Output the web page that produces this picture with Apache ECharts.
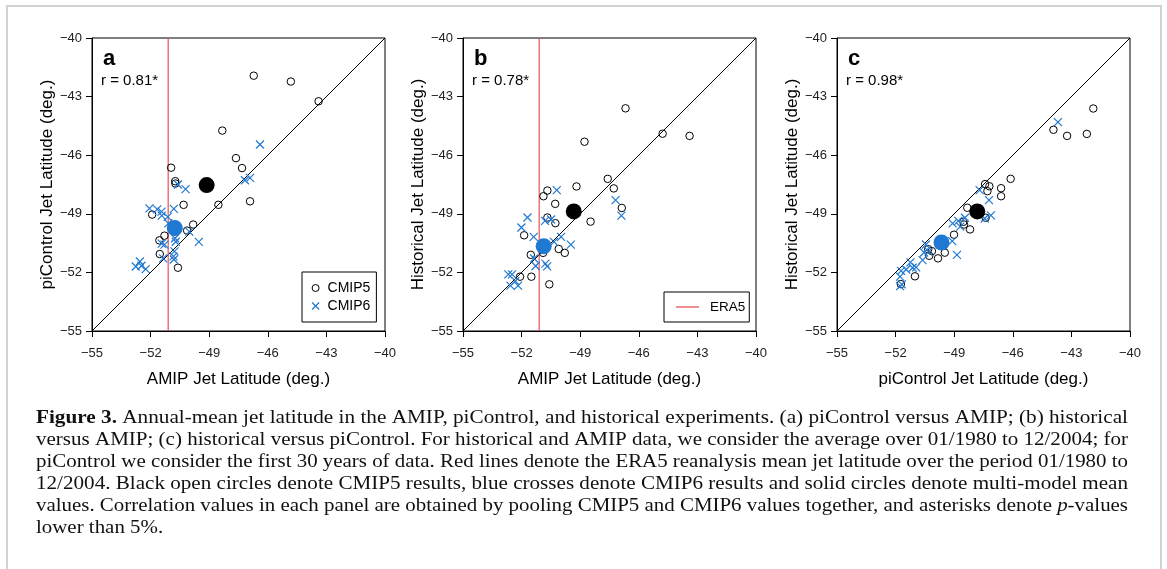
<!DOCTYPE html>
<html>
<head>
<meta charset="utf-8">
<script src="https://cdn.jsdelivr.net/npm/echarts@6/dist/echarts.min.js"></script>
<style>
html,body{margin:0;padding:0;background:#fff;}
#chart{width:1167px;height:569px;}
</style>
</head>
<body>
<div id="chart"></div>
<script>
// ---- data ----
const tickValues = [-55, -52, -49, -46, -43, -40];
const era5Lat = -51.1;
const panelLetters = ['a', 'b', 'c'];
const rValues = ['0.81*', '0.78*', '0.98*'];
const xTitles = ['AMIP Jet Latitude (deg.)', 'AMIP Jet Latitude (deg.)', 'piControl Jet Latitude (deg.)'];
const yTitles = ['piControl Jet Latitude (deg.)', 'Historical Jet Latitude (deg.)', 'Historical Jet Latitude (deg.)'];
const diagonal = [[-55, -55], [-40, -40]];

// panel a: piControl vs AMIP
const aCmip5 = [[-46.72,-41.93],[-44.82,-42.23],[-43.40,-43.24],[-48.33,-44.74],[-47.63,-46.15],[-47.32,-46.66],[-50.95,-46.64],[-50.74,-47.33],[-50.73,-47.45],[-46.91,-48.36],[-48.53,-48.54],[-50.31,-48.54],[-51.92,-49.04],[-49.82,-49.55],[-50.13,-49.86],[-51.29,-50.12],[-51.55,-50.36],[-51.53,-51.06],[-50.60,-51.76]];
const aCmip6 = [[-46.40,-45.45],[-46.91,-47.16],[-47.17,-47.28],[-50.60,-47.50],[-50.21,-47.74],[-50.81,-48.75],[-52.06,-48.72],[-51.66,-48.77],[-51.44,-48.89],[-51.43,-49.09],[-51.12,-49.16],[-50.02,-49.91],[-49.53,-50.44],[-50.71,-50.43],[-51.43,-50.53],[-51.29,-50.58],[-50.78,-50.92],[-50.83,-51.18],[-51.36,-51.28],[-50.81,-51.34],[-52.55,-51.44],[-52.76,-51.70],[-52.47,-51.66],[-52.25,-51.83],[-51.09,-49.49],[-50.75,-50.25]];
const aMean5 = [-49.13, -47.53];
const aMean6 = [-50.76, -49.73];

// panel b: historical vs AMIP
const bCmip5 = [[-46.68,-43.60],[-44.78,-44.90],[-43.40,-45.01],[-48.78,-45.31],[-47.59,-47.21],[-47.28,-47.70],[-46.87,-48.70],[-49.19,-47.60],[-50.68,-47.81],[-50.88,-48.10],[-50.28,-48.49],[-48.47,-49.40],[-50.68,-49.19],[-50.27,-49.48],[-51.87,-50.10],[-50.10,-50.80],[-49.79,-51.00],[-51.53,-51.10],[-50.90,-51.00],[-52.08,-52.22],[-51.50,-52.22],[-50.58,-52.61]];
const bCmip6 = [[-50.20,-47.79],[-47.19,-48.30],[-46.89,-49.09],[-50.80,-49.36],[-50.49,-49.29],[-51.70,-49.19],[-52.01,-49.70],[-51.38,-50.18],[-49.98,-50.18],[-49.48,-50.58],[-50.34,-50.44],[-51.36,-51.29],[-51.28,-51.67],[-50.78,-51.55],[-50.69,-51.69],[-52.68,-52.10],[-52.49,-52.10],[-52.57,-52.68],[-52.18,-52.68],[-52.32,-52.45]];
const bMean5 = [-49.33, -48.88];
const bMean6 = [-50.87, -50.66];

// panel c: historical vs piControl
const cCmip5 = [[-41.88,-43.61],[-43.92,-44.70],[-43.22,-45.01],[-42.21,-44.91],[-46.11,-47.21],[-47.42,-47.48],[-47.20,-47.59],[-47.30,-47.84],[-46.60,-47.69],[-46.60,-48.10],[-48.33,-48.69],[-47.39,-49.20],[-48.53,-49.41],[-48.50,-49.55],[-48.19,-49.80],[-49.01,-50.07],[-49.48,-50.99],[-50.33,-50.81],[-50.14,-50.91],[-50.28,-51.15],[-49.83,-51.28],[-51.01,-52.20],[-51.73,-52.60]];
const cCmip6 = [[-43.69,-44.31],[-47.70,-47.79],[-47.22,-48.30],[-47.44,-49.24],[-47.12,-49.08],[-48.45,-49.20],[-48.79,-49.36],[-49.08,-49.49],[-48.69,-49.66],[-49.10,-50.40],[-48.86,-51.10],[-50.45,-50.57],[-50.54,-50.98],[-50.31,-50.94],[-50.62,-51.37],[-51.24,-51.49],[-50.95,-51.74],[-51.13,-51.76],[-51.46,-51.85],[-51.72,-51.92],[-51.77,-52.22],[-51.77,-52.70],[-51.68,-52.61]];
const cMean5 = [-47.82, -48.88];
const cMean6 = [-49.65, -50.47];

const captionLines = [
  [['b', 'Figure 3.'], ['n', ' Annual-mean jet latitude in the AMIP, piControl, and historical experiments. (a) piControl versus AMIP; (b) historical']],
  [['n', 'versus AMIP; (c) historical versus piControl. For historical and AMIP data, we consider the average over 01/1980 to 12/2004; for']],
  [['n', 'piControl we consider the first 30 years of data. Red lines denote the ERA5 reanalysis mean jet latitude over the period 01/1980 to']],
  [['n', '12/2004. Black open circles denote CMIP5 results, blue crosses denote CMIP6 results and solid circles denote multi-model mean']],
  [['n', 'values. Correlation values in each panel are obtained by pooling CMIP5 and CMIP6 values together, and asterisks denote '], ['i', 'p'], ['n', '-values']],
  [['n', 'lower than 5%.']]
];

// ---- styling / layout ----
const panels = [
  {c5: aCmip5, c6: aCmip6, m5: aMean5, m6: aMean6, era: true},
  {c5: bCmip5, c6: bCmip6, m5: bMean5, m6: bMean6, era: true},
  {c5: cCmip5, c6: cCmip6, m5: cMean5, m6: cMean6, era: false}
];
const gridLefts = [92, 463, 837];
const gridTop = 38, gridSize = 293;
const RED = '#e65256', BLUE = '#1f78d1';
const CROSS = 'path://M0,0L10,10M10,0L0,10';
const SANS = 'Liberation Sans, Arial, sans-serif';
const SERIF_NAME = 'Liberation Serif';
const fmt = v => String(v).replace('-', '\u2212');

const grids = [], xAxes = [], yAxes = [], series = [], graphics = [];
panels.forEach((p, i) => {
  grids.push({left: gridLefts[i], top: gridTop, width: gridSize, height: gridSize,
    show: true, borderColor: '#000', borderWidth: 1, backgroundColor: 'transparent'});
  const axisCommon = {
    type: 'value', min: -55, max: -40, gridIndex: i,
    splitLine: {show: false},
    axisLine: {show: true, onZero: false, lineStyle: {color: '#000', width: 1}},
    axisTick: {show: true, inside: false, length: 6, customValues: tickValues, lineStyle: {color: '#000', width: 1}},
    nameLocation: 'middle',
    nameTextStyle: {fontFamily: SANS, fontSize: 17, color: '#000'}
  };
  xAxes.push(Object.assign({}, axisCommon, {
    name: xTitles[i], nameGap: 40,
    axisLabel: {customValues: tickValues, formatter: fmt, margin: 16, fontFamily: SANS, fontSize: 13, color: '#222'}
  }));
  yAxes.push(Object.assign({}, axisCommon, {
    name: yTitles[i], nameGap: 32,
    axisLabel: {customValues: tickValues, formatter: fmt, margin: 10, fontFamily: SANS, fontSize: 13, color: '#222'}
  }));
  series.push({type: 'line', xAxisIndex: i, yAxisIndex: i, data: diagonal, symbol: 'none', silent: true,
    lineStyle: {color: '#000', width: 1}, z: 1});
  if (p.era) {
    series.push({type: 'line', name: 'ERA5', xAxisIndex: i, yAxisIndex: i,
      data: [[era5Lat, -55], [era5Lat, -40]], symbol: 'none', silent: true,
      itemStyle: {color: RED}, lineStyle: {color: RED, width: 1.2}, z: 2});
  }
  series.push({type: 'scatter', name: 'CMIP5', xAxisIndex: i, yAxisIndex: i, data: p.c5,
    symbol: 'circle', symbolSize: 7.5, silent: true,
    itemStyle: {color: 'rgba(0,0,0,0)', borderColor: '#000', borderWidth: 1, opacity: 1}, z: 3});
  series.push({type: 'scatter', name: 'CMIP6', xAxisIndex: i, yAxisIndex: i, data: p.c6,
    symbol: CROSS, symbolSize: 8, silent: true,
    itemStyle: {color: 'rgba(0,0,0,0)', borderColor: BLUE, borderWidth: 1.2, opacity: 1}, z: 4});
  series.push({type: 'scatter', name: 'CMIP5 mean', xAxisIndex: i, yAxisIndex: i, data: [p.m5],
    symbol: 'circle', symbolSize: 16, silent: true, itemStyle: {color: '#000', opacity: 1}, z: 5});
  series.push({type: 'scatter', name: 'CMIP6 mean', xAxisIndex: i, yAxisIndex: i, data: [p.m6],
    symbol: 'circle', symbolSize: 16, silent: true, itemStyle: {color: BLUE, opacity: 1}, z: 6});

  graphics.push({type: 'text', left: gridLefts[i] + 11, top: 48,
    style: {text: panelLetters[i], font: 'bold 22px ' + SANS, fill: '#000'}});
  graphics.push({type: 'text', left: gridLefts[i] + 9, top: 73,
    style: {text: 'r = ' + rValues[i], font: '15px ' + SANS, fill: '#000'}});
});

// figure frame
graphics.push({type: 'rect', shape: {x: 7, y: 6, width: 1154, height: 640},
  style: {fill: 'none', stroke: '#d2d2d2', lineWidth: 2}, silent: true});

// caption: justified lines (stretched horizontally to the text block width)
const CAP_SIZE = 19, CAP_LEFT = 36, CAP_RIGHT = 1128, CAP_TOP = 407, CAP_LH = 22;
const tokenFont = {n: '', b: 'bold ', i: 'italic '};
const mctx = document.createElement('canvas').getContext('2d');
const lineWidth = line => line.reduce((s, t) => {
  mctx.font = tokenFont[t[0]] + CAP_SIZE + 'px "' + SERIF_NAME + '"';
  return s + mctx.measureText(t[1]).width;
}, 0);
const capRich = {};
Object.keys(tokenFont).forEach(k => {
  capRich[k] = {fontFamily: SERIF_NAME, fontSize: CAP_SIZE, lineHeight: CAP_LH, color: '#111',
    fontWeight: k === 'b' ? 'bold' : 'normal', fontStyle: k === 'i' ? 'italic' : 'normal'};
});
let lastScale = 1;
captionLines.forEach((line, k) => {
  const w = lineWidth(line);
  const s = k < captionLines.length - 1 ? (CAP_RIGHT - CAP_LEFT) / w : lastScale;
  lastScale = s;
  graphics.push({type: 'text', x: CAP_LEFT, y: CAP_TOP + k * CAP_LH, scaleX: s, originX: 0, silent: true,
    style: {text: line.map(t => '{' + t[0] + '|' + t[1] + '}').join(''),
      font: CAP_SIZE + 'px ' + SERIF_NAME, lineHeight: CAP_LH, fill: '#111', rich: capRich}});
});

const chart = echarts.init(document.getElementById('chart'), null, {renderer: 'canvas'});
chart.setOption({
  animation: false,
  backgroundColor: '#fff',
  grid: grids,
  xAxis: xAxes,
  yAxis: yAxes,
  legend: [
    {data: [
        {name: 'CMIP5', icon: 'circle', itemStyle: {color: 'rgba(0,0,0,0)', borderColor: '#000', borderWidth: 1, opacity: 1}},
        {name: 'CMIP6', icon: CROSS, itemStyle: {color: 'rgba(0,0,0,0)', borderColor: BLUE, borderWidth: 1.2, opacity: 1}}
      ],
      orient: 'vertical', left: 302, top: 272, selectedMode: false,
      itemWidth: 7, itemHeight: 7, itemGap: 2, padding: [8, 6, 8, 9.5],
      borderColor: '#000', borderWidth: 1, borderRadius: 0,
      textStyle: {fontFamily: SANS, fontSize: 14, color: '#000', lineHeight: 16, padding: [0, 0, 0, 3.5]}},
    {data: [{name: 'ERA5', icon: 'rect', itemStyle: {color: RED, borderWidth: 0}}],
      orient: 'vertical', left: 664, top: 292, selectedMode: false,
      itemWidth: 23, itemHeight: 1.3, padding: [7, 4, 7, 12],
      borderColor: '#000', borderWidth: 1, borderRadius: 0,
      textStyle: {fontFamily: SANS, fontSize: 13.5, color: '#000', lineHeight: 16, padding: [0, 0, 0, 6]}}
  ],
  graphic: graphics,
  series: series
});
</script>
</body>
</html>
